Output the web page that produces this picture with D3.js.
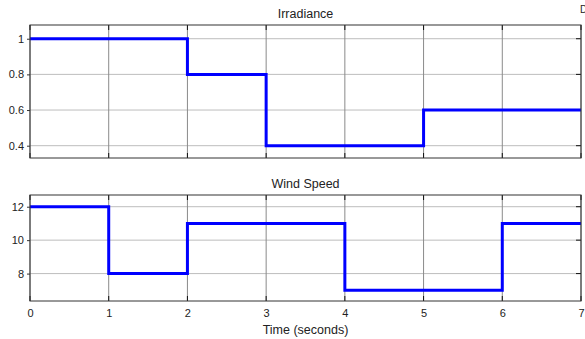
<!DOCTYPE html>
<html>
<head>
<meta charset="utf-8">
<script src="https://cdn.jsdelivr.net/npm/d3@7"></script>
<style>
  body { margin: 0; background: #fff; }
  text { font-family: "Liberation Sans", Arial, sans-serif; fill: #222; }
</style>
</head>
<body>
<svg id="chart" width="585" height="339"></svg>
<script>
// step breakpoints (seconds) and values
var timeSteps = [0, 1, 2, 3, 4, 5, 6, 7];
var irradiance = [1, 1, 0.8, 0.4, 0.4, 0.6, 0.6, 0.6];
var windSpeed = [12, 8, 11, 11, 7, 7, 11, 11];
var xTicks = [0, 1, 2, 3, 4, 5, 6, 7];
var irrTicks = [0.4, 0.6, 0.8, 1];
var windTicks = [8, 10, 12];

var svg = d3.select("#chart");
var left = 30, right = 581;

var x = d3.scaleLinear().domain([0, 7]).range([left, right]);

function panel(opts) {
    var y = d3.scaleLinear().domain(opts.domain).range([opts.bottom, opts.top]);
    var g = svg.append("g");

    // grid
    g.selectAll(".hgrid").data(opts.yTicks).enter().append("line")
        .attr("x1", left).attr("x2", right)
        .attr("y1", d => y(d)).attr("y2", d => y(d))
        .attr("stroke", "#bdbdbd").attr("stroke-width", 1);
    g.selectAll(".vgrid").data(xTicks).enter().append("line")
        .attr("x1", d => x(d)).attr("x2", d => x(d))
        .attr("y1", opts.top).attr("y2", opts.bottom)
        .attr("stroke", "#8a8a8a").attr("stroke-width", 1);

    // inward ticks
    g.selectAll(".tb").data(xTicks).enter().append("line")
        .attr("x1", d => x(d)).attr("x2", d => x(d))
        .attr("y1", opts.bottom).attr("y2", opts.bottom - 5)
        .attr("stroke", "#111");
    g.selectAll(".tt").data(xTicks).enter().append("line")
        .attr("x1", d => x(d)).attr("x2", d => x(d))
        .attr("y1", opts.top).attr("y2", opts.top + 5)
        .attr("stroke", "#111");
    g.selectAll(".tr").data(opts.yTicks).enter().append("line")
        .attr("x1", right).attr("x2", right - 5)
        .attr("y1", d => y(d)).attr("y2", d => y(d))
        .attr("stroke", "#111");

    // step line
    var line = d3.line()
        .x((d, i) => x(timeSteps[i]))
        .y(d => y(d))
        .curve(d3.curveStepAfter);
    g.append("path")
        .datum(opts.values)
        .attr("d", line)
        .attr("fill", "none")
        .attr("stroke", "#0000ff")
        .attr("stroke-width", 3);

    // frame
    g.append("rect")
        .attr("x", left).attr("y", opts.top)
        .attr("width", right - left).attr("height", opts.bottom - opts.top)
        .attr("fill", "none").attr("stroke", "#333").attr("stroke-width", 1);

    // y labels
    var yAxis = d3.axisLeft(y).tickValues(opts.yTicks).tickSize(3).tickFormat(d3.format("~g"));
    var ay = g.append("g").attr("transform", "translate(" + left + ",0)").call(yAxis);
    ay.select(".domain").remove();
    ay.selectAll("line").attr("stroke", "#333");
    ay.selectAll("text").style("font-size", "11px").attr("fill", "#222")
        .style("font-family", "Liberation Sans, Arial, sans-serif");

    if (opts.xLabels) {
        var xAxis = d3.axisBottom(x).tickValues(xTicks).tickSize(0).tickPadding(8)
            .tickFormat(d3.format("d"));
        var ax = g.append("g").attr("transform", "translate(0," + opts.bottom + ")").call(xAxis);
        ax.select(".domain").remove();
        ax.selectAll("text").style("font-size", "11px").attr("fill", "#222")
            .style("font-family", "Liberation Sans, Arial, sans-serif");
    }

    g.append("text")
        .attr("x", (left + right) / 2).attr("y", opts.top - 7)
        .attr("text-anchor", "middle")
        .style("font-size", "12.5px")
        .text(opts.title);
}

panel({ top: 25, bottom: 158, domain: [0.331, 1.077], yTicks: irrTicks,
        values: irradiance, title: "Irradiance", xLabels: false });
panel({ top: 195, bottom: 301, domain: [6.36, 12.70], yTicks: windTicks,
        values: windSpeed, title: "Wind Speed", xLabels: true });

svg.append("text")
    .attr("x", (left + right) / 2).attr("y", 334)
    .attr("text-anchor", "middle")
    .style("font-size", "12.5px")
    .text("Time (seconds)");

// clipped label in the corner
svg.append("text")
    .attr("x", 580).attr("y", 13)
    .style("font-size", "10px")
    .text("D");
</script>
</body>
</html>
